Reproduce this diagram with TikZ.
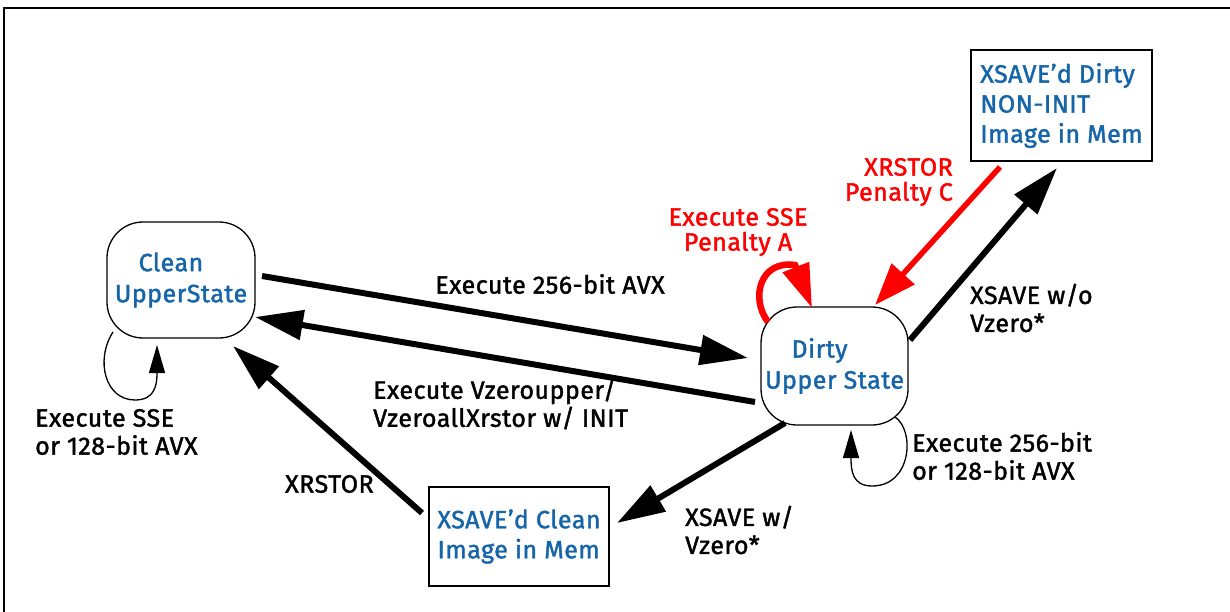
\documentclass[tikz,border=0pt]{standalone}
\usepackage{fontspec}
\setmainfont{Fira Sans}[FakeBold=1.6,LetterSpace=2]
\usetikzlibrary{arrows.meta}
\definecolor{intelblue}{RGB}{21,101,168}
\definecolor{penred}{RGB}{255,0,0}
\tikzset{
  state/.style={draw, line width=1.3pt, rounded corners=36pt, text=intelblue, align=center, font=\fontsize{25}{31}\selectfont},
  membox/.style={draw, line width=2.2pt, text=intelblue, align=left, font=\fontsize{25}{30}\selectfont},
  lbl/.style={inner sep=0pt, align=left, font=\fontsize{25}{28}\selectfont},
  redlbl/.style={inner sep=0pt, text=penred, font=\fontsize{25}{25}\selectfont},
  bigarrow/.style={line width=6pt, -{Triangle[length=48pt,width=29pt]}},
  redarrow/.style={penred, line width=5.5pt, -{Triangle[length=42pt,width=30pt]}},
  thinloop/.style={line width=1.3pt, -{Triangle[length=28pt,width=16pt]}},
}
\begin{document}
\begin{tikzpicture}[x=1pt,y=-1pt]
\useasboundingbox (0,0) rectangle (1230,612);
\draw[line width=2pt] (3.5,612) -- (3.5,8.5) -- (1230,8.5);

% states
\node[state, minimum width=148pt, minimum height=116pt] (clean) at (181,280) {Clean\hspace*{20pt}\\UpperState};
\node[state, minimum width=147pt, minimum height=118pt] (dirty) at (834.5,366) {Dirty\hspace*{30pt}\\Upper State};
\node[membox, minimum width=180pt, minimum height=99pt] (xclean) at (519,536.5) {XSAVE’d Clean\\Image in Mem};
\node[membox, minimum width=181pt, minimum height=111pt] (xdirty) at (1061.5,105.5) {XSAVE’d Dirty\\NON-INIT\\Image in Mem};

% connector end points
\coordinate (c2d-s) at (262,276);
\coordinate (c2d-e) at (748,358);
\coordinate (d2c-s) at (755,402);
\coordinate (d2c-e) at (255,317);
\coordinate (x2c-s) at (422,513);
\coordinate (x2c-e) at (233,346);
\coordinate (d2x-s) at (785,423);
\coordinate (d2x-e) at (617,523);
\coordinate (d2xd-s) at (910,340);
\coordinate (d2xd-e) at (1057,168);
\coordinate (xd2d-s) at (1000,167);
\coordinate (xd2d-e) at (875,305);

\draw[bigarrow] (c2d-s) -- (c2d-e);
\draw[bigarrow] (d2c-s) -- (d2c-e);
\draw[bigarrow] (x2c-s) -- (x2c-e);
\draw[bigarrow] (d2x-s) -- (d2x-e);
\draw[bigarrow] (d2xd-s) -- (d2xd-e);
\draw[redarrow] (xd2d-s) -- (xd2d-e);

% self loops
\coordinate (cl-s) at (113,332);
\coordinate (cl-m) at (135,400);
\coordinate (cl-e) at (157,345);
\draw[thinloop] (cl-s) .. controls (95,360) and (105,400) .. (cl-m) .. controls (155,400) and (157,385) .. (cl-e);
\coordinate (dl-s) at (895,417);
\coordinate (dl-m) at (872,486);
\coordinate (dl-e) at (851,430);
\draw[thinloop] (dl-s) .. controls (915,430) and (912,486) .. (dl-m) .. controls (852,486) and (851,470) .. (dl-e);
\coordinate (rl-s) at (768,322);
\coordinate (rl-m) at (795,265);
\coordinate (rl-e) at (812,308);
\draw[penred, line width=6.5pt, -{Triangle[length=44pt,width=27pt]}] (rl-s) .. controls (750,298) and (760,260) .. (rl-m) -- (rl-e);

% labels
\node[lbl, anchor=center] (l1) at (550,284) {Execute 256-bit AVX};
\node[lbl, anchor=west] (l2) at (373,404) {Execute Vzeroupper/\\VzeroallXrstor w/ INIT};
\node[lbl, anchor=west] (l3) at (35,432) {Execute SSE\\or 128-bit AVX};
\node[lbl, anchor=west] (l4) at (285,484) {XRSTOR};
\node[lbl, anchor=west] (l5) at (685,530) {XSAVE w/\\Vzero*};
\node[lbl, anchor=west] (l6) at (912,456) {Execute 256-bit\\or 128-bit AVX};
\node[lbl, anchor=west] (l7) at (970,308) {XSAVE w/o\\Vzero*};
\node[redlbl, align=center] (l8) at (738,232) {Execute SSE\\Penalty A};
\node[redlbl, align=right, anchor=east] (l9) at (953,182) {XRSTOR\\Penalty C};
\end{tikzpicture}
\end{document}
